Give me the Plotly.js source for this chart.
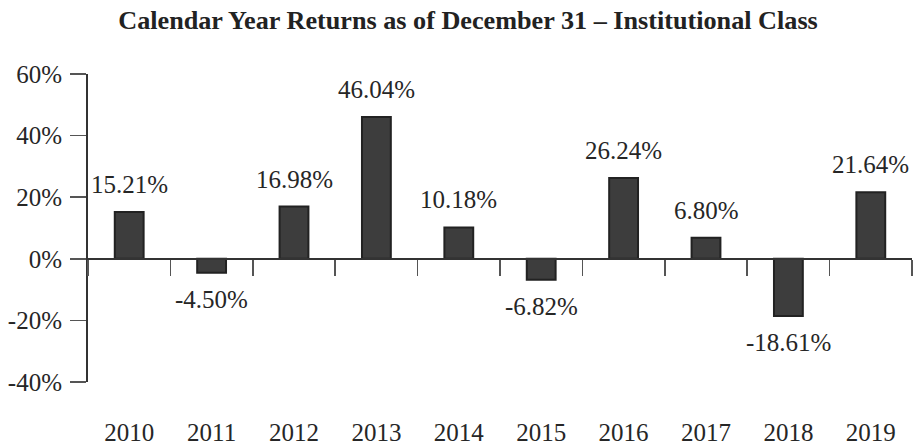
<!DOCTYPE html>
<html>
<head>
<meta charset="utf-8">
<script src="https://cdn.plot.ly/plotly-3.0.1.min.js"></script>
<style>html,body{margin:0;padding:0;background:#fff;}#chart{width:913px;height:445px;}</style>
</head>
<body>
<div id="chart"></div>
<script>
const years = ["2010","2011","2012","2013","2014","2015","2016","2017","2018","2019"];
const returns = [15.21, -4.50, 16.98, 46.04, 10.18, -6.82, 26.24, 6.80, -18.61, 21.64];
const valueLabels = ["15.21%","-4.50%","16.98%","46.04%","10.18%","-6.82%","26.24%","6.80%","-18.61%","21.64%"];
const yTickVals = [-40, -20, 0, 20, 40, 60];
const yTickText = ["-40%","-20%","0%","20%","40%","60%"];

const serif = 'Liberation Serif, Times New Roman, Times, serif';

const trace = {
  type: 'bar',
  x: years,
  y: returns,
  width: 0.35,
  marker: {color: '#3d3d3d', line: {color: '#222222', width: 2}},
  hoverinfo: 'skip'
};

const annotations = years.map((yr, i) => ({
  x: i,
  y: returns[i],
  xref: 'x', yref: 'y',
  text: valueLabels[i],
  showarrow: false,
  xanchor: 'center',
  yanchor: returns[i] >= 0 ? 'bottom' : 'top',
  yshift: returns[i] >= 0 ? 12 : -11,
  font: {family: serif, size: 25, color: '#262626'}
}));

const layout = {
  width: 913, height: 445,
  margin: {l: 88, r: 1, t: 74, b: 63},
  paper_bgcolor: '#fff', plot_bgcolor: '#fff',
  showlegend: false,
  title: {
    text: '<b>Calendar Year Returns as of December 31 – Institutional Class</b>',
    font: {family: serif, size: 26.2, color: '#222'},
    x: 0.5126, xref: 'container', xanchor: 'center',
    y: 0.955, yref: 'container', yanchor: 'middle'
  },
  xaxis: {
    type: 'category',
    categoryorder: 'array', categoryarray: years,
    range: [-0.5, 9.5],
    anchor: 'free', position: 0.4,
    showline: true, linecolor: '#333', linewidth: 2,
    ticks: 'outside', tickson: 'boundaries', ticklen: 16, tickwidth: 1.5, tickcolor: '#555',
    showgrid: false, zeroline: false,
    tickfont: {family: serif, size: 25, color: '#262626'},
    ticklabelstandoff: 151
  },
  yaxis: {
    range: [-40, 60],
    tickvals: yTickVals, ticktext: yTickText,
    showline: true, linecolor: '#333', linewidth: 2,
    ticks: 'outside', ticklen: 16, tickwidth: 1.5, tickcolor: '#555',
    showgrid: false, zeroline: false,
    tickfont: {family: serif, size: 25, color: '#262626'},
    ticklabelstandoff: 3
  },
  annotations: annotations
};

Plotly.newPlot('chart', [trace], layout, {staticPlot: true, displayModeBar: false});
</script>
</body>
</html>
